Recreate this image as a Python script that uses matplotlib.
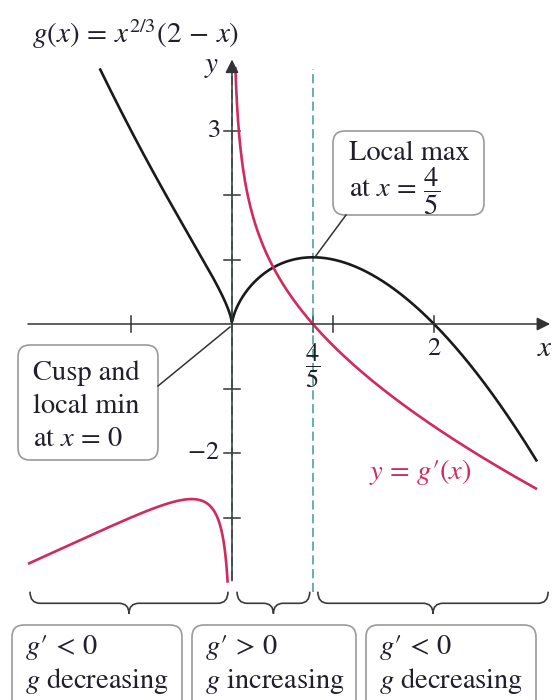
import numpy as np
import matplotlib
matplotlib.use("Agg")
import matplotlib.pyplot as plt
from matplotlib.patches import FancyBboxPatch, PathPatch
from matplotlib.path import Path

plt.rcParams['font.family'] = ['STIXGeneral', 'DejaVu Serif']
plt.rcParams['mathtext.fontset'] = 'stix'

# g(x) = x^(2/3) (2 - x) and its derivative g'(x) = (4 - 5x) / (3 x^(1/3))
def g(x):
    return np.cbrt(x) ** 2 * (2 - x)

def gprime(x):
    return (4 - 5 * x) / (3 * np.cbrt(x))

# plotted ranges
g_range = (-1.31, 3.02)
gp_left_range = (-2.02, -0.043)
gp_right_range = (0.033, 3.02)
crit_x = [0.0, 0.8]
x_ticks = [-1, 0.8, 1, 2]
y_ticks = [-3, -2, -1, 1, 2, 3]
x_tick_labels = {2: r'$2$', 0.8: r'$\dfrac{4}{5}$'}
y_tick_labels = {3: r'$3$', -2: r'$-2$'}
brace_spans = [(-2.0, -0.04), (0.05, 0.77), (0.85, 3.13)]
box_lines = [
    (r'$g\prime\, <\, 0$', r'$g$ decreasing'),
    (r'$g\prime\, >\, 0$', r'$g$ increasing'),
    (r'$g\prime\, <\, 0$', r'$g$ decreasing'),
]

INK = '#20202c'
PINK = '#d12a5e'
TEAL = '#3e9c8e'
FS = 20.5
W, H = 552, 700

fig = plt.figure(figsize=(W / 100, H / 100), dpi=100)
ax = fig.add_axes([0, 0, 1, 1])
ax.set_xlim(-232 / 101, (W - 232) / 101)
ax.set_ylim((324 - H) / 64.5, 324 / 64.5)
ax.axis('off')

# axes with arrows
ax.annotate('', xy=(3.15, 0), xytext=(-2.02, 0),
            arrowprops=dict(arrowstyle='-|>', color='#333333', lw=1.1,
                            mutation_scale=20, shrinkA=0, shrinkB=0))
ax.annotate('', xy=(0, 4.1), xytext=(0, -3.98),
            arrowprops=dict(arrowstyle='-|>', color='#333333', lw=1.1,
                            mutation_scale=20, shrinkA=0, shrinkB=0))
for t in x_ticks:
    ax.plot([t, t], [-0.12, 0.12], color='#333333', lw=1.1)
for t in y_ticks:
    ax.plot([-0.08, 0.08], [t, t], color='#333333', lw=1.1)

# critical points
ax.plot([crit_x[0]] * 2, [-3.97, 3.95], color=TEAL, lw=1.1, ls=(0, (6, 3)))
ax.plot([crit_x[1]] * 2, [-4.15, 3.95], color=TEAL, lw=1.1, ls=(0, (6, 3)))

# curves
xs = np.linspace(*g_range, 600)
ax.plot(xs, g(xs), color='#1a1a1a', lw=1.9, solid_capstyle='butt')
xl = np.linspace(*gp_left_range, 600)
ax.plot(xl, gprime(xl), color=PINK, lw=1.9, solid_capstyle='butt')
xr = np.geomspace(gp_right_range[0], gp_right_range[1], 600)
ax.plot(xr, gprime(xr), color=PINK, lw=1.9, solid_capstyle='butt')

# tick labels
ax.text(2, -0.2, x_tick_labels[2], ha='center', va='top', fontsize=19, color=INK)
ax.text(0.8, -0.27, x_tick_labels[0.8], ha='center', va='top', fontsize=19,
        color=INK)
for t, s in y_tick_labels.items():
    ax.text(-0.12, t, s, ha='right', va='center', fontsize=19, color=INK)
ax.text(3.1, -0.2, r'$x$', ha='center', va='top', fontsize=21, color=INK)
ax.text(-0.2, 3.98, r'$y$', ha='center', va='center', fontsize=21, color=INK)
ax.text(1.86, -2.3, r'$y\, =\, g\prime(x)$', ha='center', va='center',
        fontsize=FS, color=PINK)

# braces under the intervals
def brace(x0, x1, yt=-4.15, ym=-4.33, yb=-4.49, r=0.1):
    xc = (x0 + x1) / 2
    verts = [(x0, yt), (x0, ym), (x0 + r, ym),
             (xc - r, ym),
             (xc, ym), (xc, yb),
             (xc, ym), (xc + r, ym),
             (x1 - r, ym),
             (x1, ym), (x1, yt)]
    codes = [Path.MOVETO, Path.CURVE3, Path.CURVE3,
             Path.LINETO,
             Path.CURVE3, Path.CURVE3,
             Path.CURVE3, Path.CURVE3,
             Path.LINETO,
             Path.CURVE3, Path.CURVE3]
    ax.add_patch(PathPatch(Path(verts, codes), fill=False,
                           edgecolor='#3a3a3a', lw=1.2))

for a, b in brace_spans:
    brace(a, b)

# overlay in pixel units for the call-out boxes
ov = fig.add_axes([0, 0, 1, 1])
ov.set_xlim(0, W)
ov.set_ylim(H, 0)
ov.axis('off')
ov.patch.set_alpha(0)

def box(x0, y0, x1, y1):
    ov.add_patch(FancyBboxPatch((x0, y0), x1 - x0, y1 - y0,
                                boxstyle='round,pad=0,rounding_size=12',
                                facecolor='white', edgecolor='#9a9a9a', lw=1.2))

ov.text(32, 34, r'$g(x)\, =\, x^{2/3}(2\, -\, x)$', ha='left', va='center',
        fontsize=21, color=INK)

# local max call-out
ov.plot([346, 315], [215, 257], color='#333333', lw=1.1)
box(333, 131, 484, 215)
ov.text(349, 153, 'Local max', ha='left', va='center', fontsize=FS, color=INK)
ov.text(349, 191, r'at $x\, =\, \dfrac{4}{5}$', ha='left', va='center',
        fontsize=FS, color=INK)

# cusp call-out
ov.plot([158, 230], [386, 327], color='#333333', lw=1.1)
box(18, 345, 158, 460)
for i, s in enumerate(['Cusp and', 'local min', r'at $x\, =\, 0$']):
    ov.text(33, 373 + 33 * i, s, ha='left', va='center', fontsize=FS, color=INK)

# interval boxes
bottom_boxes = [(12, 182), (192, 356), (366, 536)]
for (x0, x1), (l1, l2) in zip(bottom_boxes, box_lines):
    box(x0, 625, x1, 712)
    ov.text(x0 + 13, 648, l1, ha='left', va='center', fontsize=FS, color=INK)
    ov.text(x0 + 13, 681, l2, ha='left', va='center', fontsize=FS, color=INK)

fig.savefig('out.png', dpi=100)
